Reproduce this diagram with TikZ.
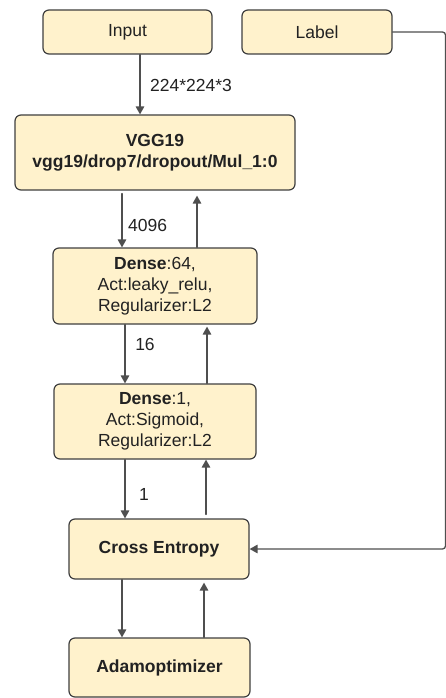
\documentclass[tikz,border=0pt]{standalone}
\usepackage{fontspec}
\setmainfont{Liberation Sans}
\usetikzlibrary{arrows.meta}
\definecolor{boxfill}{HTML}{FFF2CC}
\definecolor{boxline}{HTML}{3F3F3F}
\definecolor{arrline}{HTML}{4F4F4F}
\definecolor{txt}{HTML}{222222}
\tikzset{
  layer/.style={draw=boxline,fill=boxfill,rounded corners=6pt,line width=1.2pt,
    inner sep=0pt,align=center,text=txt,font=\fontsize{17.5}{21}\selectfont},
  flow/.style={->,draw=arrline,line width=1.3pt},
  dimlabel/.style={text=txt,font=\fontsize{17.5}{21}\selectfont,inner sep=0pt}
}
\begin{document}
\begin{tikzpicture}[line cap=round,line join=round,>={Triangle[width=8.5pt,length=8pt]},x=1pt,y=-1pt]
\useasboundingbox (0,0) rectangle (446,698);

% boxes
\node[layer,minimum width=169pt,minimum height=44pt] (inp) at (127.5,32) {Input};
\node[layer,minimum width=150pt,minimum height=44pt] (lab) at (317,32) {Label};
\node[layer,minimum width=280pt,minimum height=75pt] (vgg) at (155,152.5) {\textbf{VGG19}\\\textbf{vgg19/drop7/dropout/Mul\_1:0}};
\node[layer,minimum width=204pt,minimum height=76pt] (densea) at (155,286) {\textbf{Dense}:64,\\Act:leaky\_relu,\\Regularizer:L2};
\node[layer,minimum width=202pt,minimum height=75pt] (denseb) at (155,421.5) {\textbf{Dense}:1,\\Act:Sigmoid,\\Regularizer:L2};
\node[layer,minimum width=180pt,minimum height=60pt] (ce) at (159,549) {\textbf{Cross Entropy}};
\node[layer,minimum width=181pt,minimum height=59pt] (adam) at (159.5,667.5) {\textbf{Adamoptimizer}};

% forward
\draw[flow] ([xshift=12.5pt]inp.south) -- ([xshift=-15pt]vgg.north);
\draw[flow] ([xshift=-33pt,yshift=-3pt]vgg.south) -- ([xshift=-33pt]densea.north);
\draw[flow] ([xshift=-30pt]densea.south) -- ([xshift=-30pt]denseb.north);
\draw[flow] ([xshift=-30pt]denseb.south) -- ([xshift=-34pt]ce.north);
\draw[flow] ([xshift=-37pt]ce.south) -- ([xshift=-37.5pt]adam.north);

% backward
\draw[flow] ([xshift=44.5pt]adam.north) -- ([xshift=45pt,yshift=-3pt]ce.south);
\draw[flow] ([xshift=47pt,yshift=4pt]ce.north) -- ([xshift=51pt]denseb.north |- denseb.south);
\draw[flow] ([xshift=52pt]denseb.north) -- ([xshift=52pt,yshift=-2pt]densea.south);
\draw[flow] ([xshift=42pt]densea.north) -- ([xshift=42pt,yshift=-5pt]vgg.south);

% label to loss
\coordinate (labturn) at (445.5,32);
\coordinate (ceturn) at (445.5,549);
\draw[flow,rounded corners=3pt] (lab.east) -- (labturn) -- (ceturn) -- (ce.east);

% sizes
\node[dimlabel,anchor=west] (dimin) at (150,85) {224*224*3};
\node[dimlabel,anchor=west] (dimvgg) at (128,225) {4096};
\node[dimlabel] (dima) at (145,344) {16};
\node[dimlabel] (dimb) at (144,494) {1};
\end{tikzpicture}
\end{document}
